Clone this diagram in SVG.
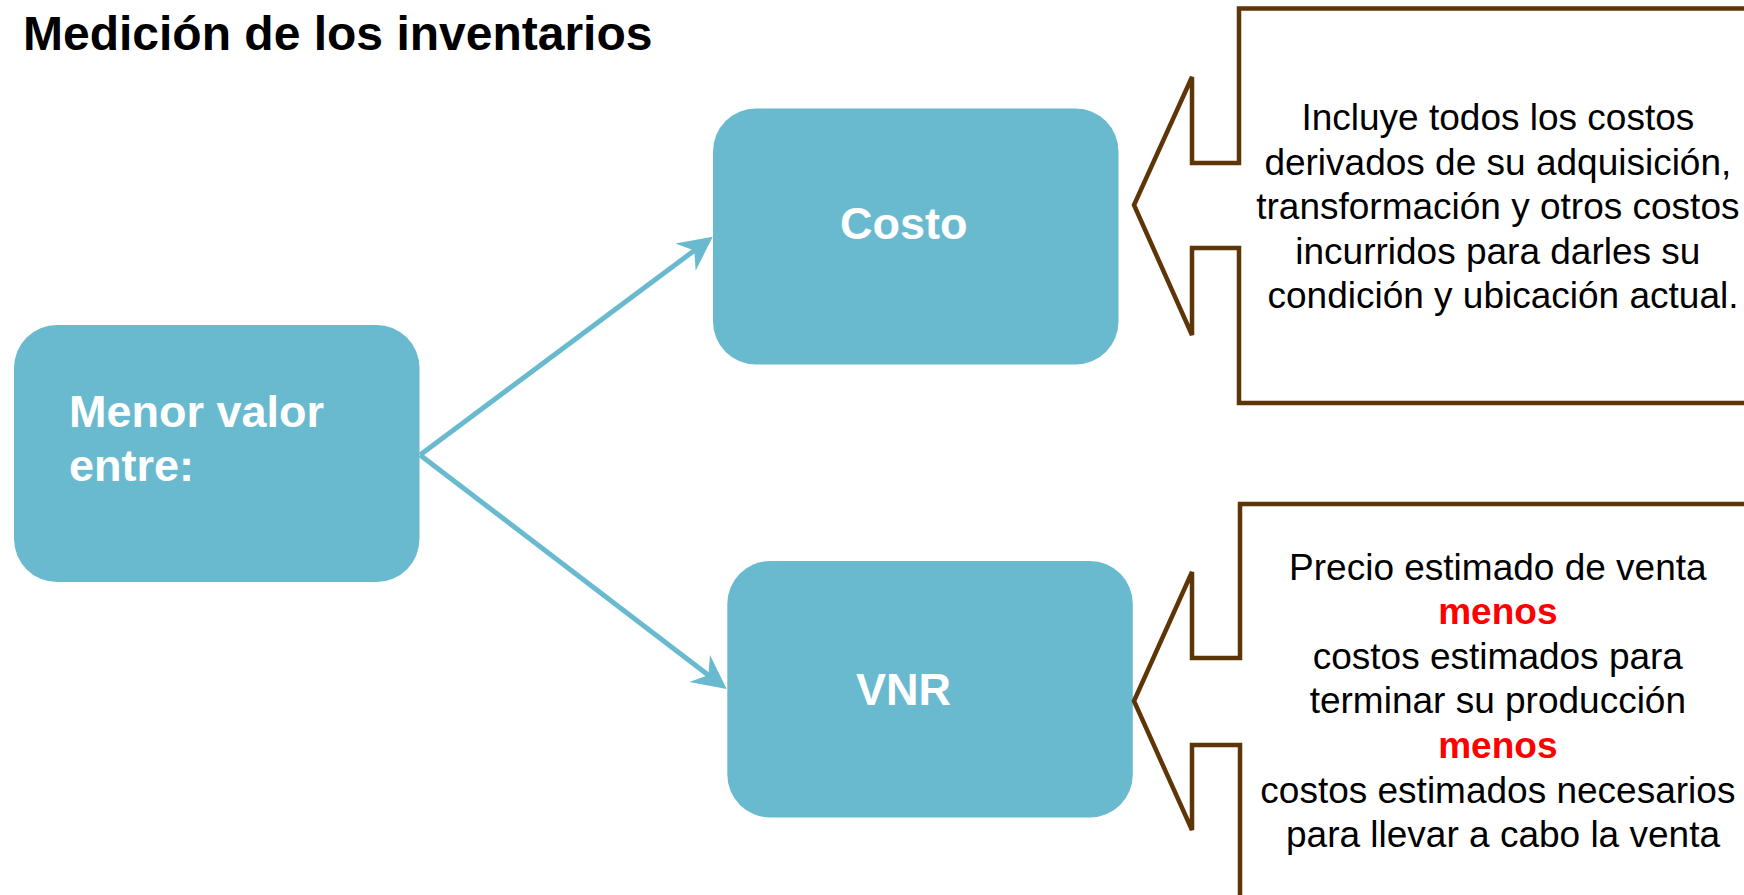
<svg xmlns="http://www.w3.org/2000/svg" width="1744" height="895" viewBox="0 0 1744 895">
  <style>
    .box { fill: #69BACF; }
    .lbl { font-family: "Liberation Sans", Arial, sans-serif; font-weight: bold; font-size: 45px; fill: #FFFFFF; }
    .title { font-family: "Liberation Sans", Arial, sans-serif; font-weight: bold; font-size: 48px; fill: #000000; }
    .call { fill: #FFFFFF; stroke: #5E3506; stroke-width: 4.5; stroke-linejoin: miter; }
    .ctext { font-family: "Liberation Sans", Arial, sans-serif; font-size: 37px; fill: #000000; text-anchor: middle; }
    .red { fill: #FF0000; font-weight: bold; }
    .conn { stroke: #69BACF; stroke-width: 5; fill: none; }
  </style>
  <defs>
    <marker id="ah" markerUnits="userSpaceOnUse" markerWidth="44" markerHeight="44" viewBox="-38 -22 44 44" refX="-20" refY="0" orient="auto">
      <path d="M0,0 L-34,-17 L-23,0 L-34,17 Z" fill="#69BACF"/>
    </marker>
  </defs>
  <rect width="1744" height="895" fill="#FFFFFF"/>

  <text class="title" x="23" y="50">Medición de los inventarios</text>

  <g id="connectors">
    <path class="conn" d="M420,455 L696.7,248.7" marker-end="url(#ah)"/>
    <path class="conn" d="M420,455 L710.8,676.9" marker-end="url(#ah)"/>
  </g>

  <g id="node-menor">
    <rect class="box" x="14" y="325" width="405.5" height="257" rx="43" ry="43"/>
    <text class="lbl" x="69" y="427">Menor valor</text>
    <text class="lbl" x="69" y="481">entre:</text>
  </g>

  <g id="node-costo">
    <rect class="box" x="713" y="108.5" width="405.5" height="256" rx="43" ry="43"/>
    <text class="lbl" x="840" y="239">Costo</text>
  </g>

  <g id="node-vnr">
    <rect class="box" x="727.3" y="561" width="405.5" height="256.5" rx="43" ry="43"/>
    <text class="lbl" x="856" y="705">VNR</text>
  </g>

  <g id="callout-costo">
    <path class="call" d="M1239,8.5 H1760 V403 H1239 V248 H1192 V335 L1134,205 L1192,77 V163 H1239 Z"/>
    <text class="ctext">
      <tspan x="1503" y="130">Incluye todos los costos</tspan>
      <tspan x="1503" y="174.5">derivados de su adquisición,</tspan>
      <tspan x="1503" y="219">transformación y otros costos</tspan>
      <tspan x="1503" y="263.5">incurridos para darles su</tspan>
      <tspan x="1503" y="308">condición y ubicación actual.</tspan>
    </text>
  </g>

  <g id="callout-vnr">
    <path class="call" d="M1240,504 H1760 V915 H1240 V745 H1192 V830 L1134,701 L1192,572 V658 H1240 Z"/>
    <text class="ctext">
      <tspan x="1503" y="579.5">Precio estimado de venta</tspan>
      <tspan x="1503" y="624" class="red">menos</tspan>
      <tspan x="1503" y="668.5">costos estimados para</tspan>
      <tspan x="1503" y="713">terminar su producción</tspan>
      <tspan x="1503" y="758" class="red">menos</tspan>
      <tspan x="1503" y="802.5">costos estimados necesarios</tspan>
      <tspan x="1503" y="847">para llevar a cabo la venta</tspan>
    </text>
  </g>
</svg>
